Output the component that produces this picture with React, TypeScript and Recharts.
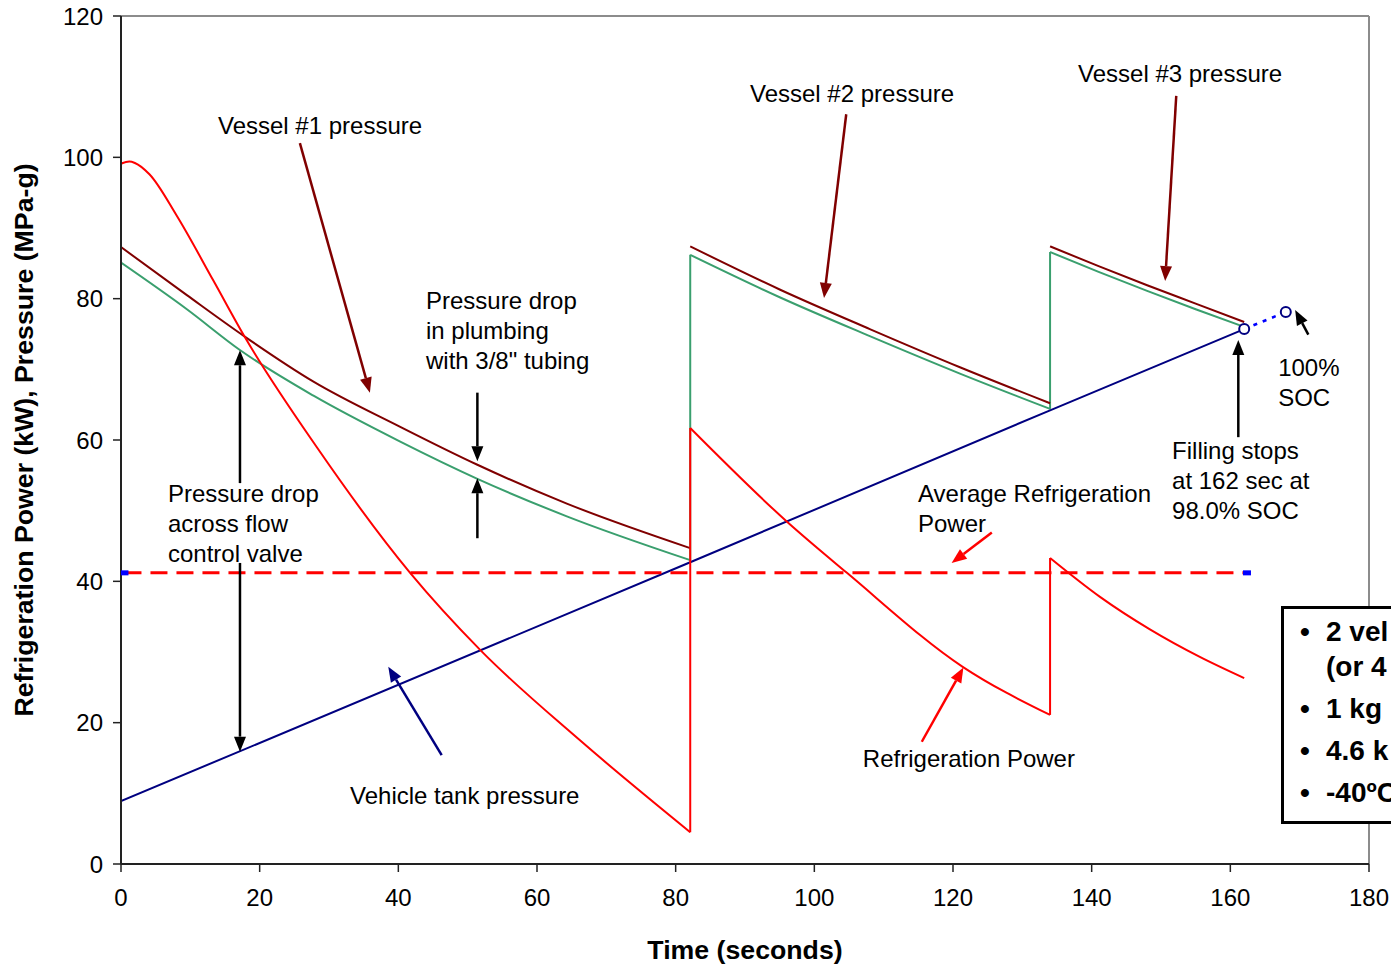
import React from 'react';
import { LineChart, Line, XAxis, YAxis, ReferenceLine, ReferenceDot } from 'recharts';

const FONT = '"Liberation Sans", Arial, Helvetica, sans-serif';

// Axis ticks
const timeTicks = [0, 20, 40, 60, 80, 100, 120, 140, 160, 180];
const valueTicks = [0, 20, 40, 60, 80, 100, 120];

// Refrigeration power (kW), one decaying segment per supply vessel
const powerVessel1 = [
  { t: 0, v: 99.1 }, { t: 1.2, v: 99.4 }, { t: 2.0, v: 99.2 }, { t: 4.1, v: 97.6 },
  { t: 8.0, v: 91.8 }, { t: 13.3, v: 82.6 }, { t: 17.9, v: 74.5 }, { t: 28.3, v: 58.9 },
  { t: 41.7, v: 41.2 }, { t: 51.8, v: 30.3 }, { t: 66.2, v: 17.5 }, { t: 82.1, v: 4.5 },
];
const powerVessel2 = [
  { t: 82.1, v: 61.7 }, { t: 96.1, v: 48.4 }, { t: 104.7, v: 41.2 }, { t: 121.4, v: 27.9 },
  { t: 134.0, v: 21.1 },
];
const powerVessel3 = [
  { t: 134.0, v: 43.3 }, { t: 141.2, v: 37.8 }, { t: 148.4, v: 33.2 }, { t: 155.6, v: 29.3 },
  { t: 162.0, v: 26.3 },
];
// Steps in refrigeration power when switching vessels
const powerSwitch1 = [{ t: 82.1, v: 4.5 }, { t: 82.1, v: 61.7 }];
const powerSwitch2 = [{ t: 134.0, v: 21.1 }, { t: 134.0, v: 43.3 }];

// Storage vessel pressure (MPa-g)
const vessel1Pressure = [
  { t: 0, v: 87.3 }, { t: 9.5, v: 80.5 }, { t: 17.9, v: 74.6 }, { t: 27.7, v: 68.3 },
  { t: 40.2, v: 61.9 }, { t: 51.4, v: 56.5 }, { t: 64.3, v: 51.0 }, { t: 82.1, v: 44.7 },
];
const vessel2Pressure = [
  { t: 82.1, v: 87.4 }, { t: 95, v: 81.3 }, { t: 108, v: 75.7 }, { t: 121, v: 70.3 },
  { t: 134, v: 65.2 },
];
const vessel3Pressure = [
  { t: 134, v: 87.4 }, { t: 141, v: 84.6 }, { t: 148, v: 81.9 }, { t: 155, v: 79.3 },
  { t: 162, v: 76.7 },
];

// Pressure at the flow control valve inlet (MPa-g)
const valveInlet1 = [
  { t: 0, v: 85.1 }, { t: 9.5, v: 78.5 }, { t: 17.2, v: 72.7 }, { t: 27.7, v: 66.3 },
  { t: 40.2, v: 59.8 }, { t: 51.4, v: 54.5 }, { t: 64.3, v: 49.2 }, { t: 82.1, v: 43.0 },
];
const valveInlet2 = [
  { t: 82.1, v: 86.2 }, { t: 95, v: 80.2 }, { t: 108, v: 74.7 }, { t: 121, v: 69.4 },
  { t: 134, v: 64.4 },
];
const valveInlet3 = [
  { t: 134, v: 86.6 }, { t: 141, v: 83.8 }, { t: 148, v: 81.1 }, { t: 155, v: 78.5 },
  { t: 162, v: 76.0 },
];
const valveInletSwitch1 = [{ t: 82.1, v: 43.0 }, { t: 82.1, v: 86.2 }];
const valveInletSwitch2 = [{ t: 134, v: 64.4 }, { t: 134, v: 86.6 }];

// Vehicle tank pressure (MPa-g)
const vehicleTankPressure = [
  { t: 0, v: 8.9 }, { t: 82.1, v: 42.7 }, { t: 134, v: 64.2 }, { t: 162, v: 75.7 },
];

// Extension from 98.0% SOC (fill stop) to 100% SOC
const fullChargeExtension = [
  { t: 162, v: 75.7 }, { t: 168, v: 78.1 },
];

// Average refrigeration power (kW)
const averagePower = [
  { t: 0.5, v: 41.2 }, { t: 162.4, v: 41.2 },
];

// Annotation arrows: [t, value] start and tip
const arrows = [
  { from: [25.8, 102.0], to: [35.9, 66.7], color: '#800000' },
  { from: [104.6, 106.1], to: [101.4, 80.1], color: '#800000' },
  { from: [152.2, 108.7], to: [150.6, 82.5], color: '#800000' },
  { from: [51.4, 66.7], to: [51.4, 57.0], color: '#000000' },
  { from: [51.4, 46.1], to: [51.4, 54.6], color: '#000000' },
  { from: [17.16, 53.9], to: [17.16, 72.7], color: '#000000' },
  { from: [17.16, 42.6], to: [17.16, 15.9], color: '#000000' },
  { from: [125.6, 46.9], to: [119.8, 42.6], color: '#ff0000' },
  { from: [115.5, 17.3], to: [121.5, 27.8], color: '#ff0000' },
  { from: [46.25, 15.4], to: [38.55, 27.9], color: '#000080' },
  { from: [161.15, 60.4], to: [161.15, 74.15], color: '#000000' },
  { from: [171.25, 74.9], to: [169.35, 78.4], color: '#000000' },
];

// Annotation text anchored at the first line's baseline
const notes = [
  { t: 13.99, v: 103.37, lines: ['Vessel #1 pressure'] },
  { t: 90.72, v: 107.9, lines: ['Vessel #2 pressure'] },
  { t: 138.03, v: 110.6, lines: ['Vessel #3 pressure'] },
  { t: 43.99, v: 78.6, lines: ['Pressure drop', 'in plumbing', 'with 3/8" tubing'] },
  { t: 6.78, v: 51.16, lines: ['Pressure drop', 'across flow', 'control valve'] },
  { t: 114.95, v: 51.16, lines: ['Average Refrigeration', 'Power'] },
  { t: 151.6, v: 57.38, lines: ['Filling stops', 'at 162 sec at', '98.0% SOC'] },
  { t: 166.9, v: 68.99, lines: ['100%', 'SOC'] },
  { t: 33.03, v: 8.42, lines: ['Vehicle tank pressure'] },
  { t: 107.0, v: 13.66, lines: ['Refrigeration Power'] },
];

const boxLines = [
  { bullet: true, text: '2 vel' },
  { bullet: false, text: '(or 4' },
  { bullet: true, text: '1 kg' },
  { bullet: true, text: '4.6 k' },
  { bullet: true, text: '-40ºC' },
];
const boxLineCenters = [632, 667, 709, 751, 793];

const arrowShape = (color: string) => (props: any) => {
  const { x1, y1, x2, y2 } = props;
  const ang = Math.atan2(y2 - y1, x2 - x1);
  const L = 15;
  const W = 6;
  const bx = x2 - L * Math.cos(ang);
  const by = y2 - L * Math.sin(ang);
  const px = -Math.sin(ang) * W;
  const py = Math.cos(ang) * W;
  return (
    <g>
      <line x1={x1} y1={y1} x2={bx} y2={by} stroke={color} strokeWidth={2.5} />
      <polygon points={`${x2},${y2} ${bx + px},${by + py} ${bx - px},${by - py}`} fill={color} />
    </g>
  );
};

const noteShape = (lines: string[]) => (props: any) => {
  const { cx, cy } = props;
  return (
    <text x={cx} y={cy} fill="#000" fontSize={24} fontFamily={FONT}>
      {lines.map((s, i) => (
        <tspan key={i} x={cx} dy={i === 0 ? 0 : 30}>{s}</tspan>
      ))}
    </text>
  );
};

const openCircle = (props: any) => (
  <circle key={`c-${props.index}`} cx={props.cx} cy={props.cy} r={5} fill="#fff" stroke="#000080" strokeWidth={2} />
);

const dashMarker = (props: any) => (
  <rect key={`m-${props.index}`} x={props.cx - 4} y={props.cy - 2.5} width={8} height={5} fill="#0000ff" />
);

const GREEN = '#3a9f6e';
const BROWN = '#800000';
const RED = '#ff0000';
const NAVY = '#000080';

const series = (data: any[], color: string, curve: 'monotone' | 'linear', key: string) => (
  <Line
    key={key}
    data={data}
    dataKey="v"
    type={curve}
    stroke={color}
    strokeWidth={2}
    dot={false}
    isAnimationActive={false}
  />
);

export default function App() {
  return (
    <div style={{ position: 'absolute', left: 0, top: 0, width: 1391, height: 965, overflow: 'hidden', background: '#fff', fontFamily: FONT }}>
      <LineChart width={1391} height={965} margin={{ top: 16, right: 22, bottom: 0, left: 0 }}>
        <XAxis
          dataKey="t"
          type="number"
          domain={[0, 180]}
          ticks={timeTicks}
          allowDataOverflow
          height={101}
          tickSize={8}
          tickMargin={17}
          axisLine={{ stroke: '#222', strokeWidth: 2 }}
          tickLine={{ stroke: '#222', strokeWidth: 1.5 }}
          tick={{ fill: '#000', fontSize: 24, fontFamily: FONT }}
        />
        <YAxis
          type="number"
          domain={[0, 120]}
          ticks={valueTicks}
          allowDataOverflow
          width={121}
          tickSize={8}
          tickMargin={10}
          axisLine={{ stroke: '#222', strokeWidth: 2 }}
          tickLine={{ stroke: '#222', strokeWidth: 1.5 }}
          tick={{ fill: '#000', fontSize: 24, fontFamily: FONT }}
        />
        <ReferenceLine y={120} stroke="#8c8c8c" strokeWidth={2} />
        <ReferenceLine x={180} stroke="#8c8c8c" strokeWidth={2} />

        {series(valveInlet1, GREEN, 'monotone', 'g1')}
        {series(valveInletSwitch1, GREEN, 'linear', 'gs1')}
        {series(valveInlet2, GREEN, 'monotone', 'g2')}
        {series(valveInletSwitch2, GREEN, 'linear', 'gs2')}
        {series(valveInlet3, GREEN, 'monotone', 'g3')}

        {series(vessel1Pressure, BROWN, 'monotone', 'b1')}
        {series(vessel2Pressure, BROWN, 'monotone', 'b2')}
        {series(vessel3Pressure, BROWN, 'monotone', 'b3')}

        {series(vehicleTankPressure, NAVY, 'linear', 'tank')}

        {series(powerVessel1, RED, 'monotone', 'r1')}
        {series(powerSwitch1, RED, 'linear', 'rs1')}
        {series(powerVessel2, RED, 'monotone', 'r2')}
        {series(powerSwitch2, RED, 'linear', 'rs2')}
        {series(powerVessel3, RED, 'monotone', 'r3')}

        <Line data={averagePower} dataKey="v" type="linear" stroke={RED} strokeWidth={3} strokeDasharray="17 9" dot={dashMarker} isAnimationActive={false} />
        <Line data={fullChargeExtension} dataKey="v" type="linear" stroke="#0000ff" strokeWidth={2.5} strokeDasharray="4 6" dot={openCircle} isAnimationActive={false} />

        {arrows.map((a, i) => (
          <ReferenceLine
            key={`a-${i}`}
            segment={[{ x: a.from[0], y: a.from[1] }, { x: a.to[0], y: a.to[1] }]}
            shape={arrowShape(a.color)}
          />
        ))}
        {notes.map((n, i) => (
          <ReferenceDot key={`n-${i}`} x={n.t} y={n.v} r={0} shape={noteShape(n.lines)} />
        ))}
      </LineChart>

      <svg width={1391} height={965} style={{ position: 'absolute', left: 0, top: 0, pointerEvents: 'none' }}>
        <text x={745} y={959} textAnchor="middle" fontSize={26.7} fontWeight="bold" fontFamily={FONT} fill="#000">
          Time (seconds)
        </text>
        <text
          x={33}
          y={440}
          textAnchor="middle"
          fontSize={26.7}
          fontWeight="bold"
          fontFamily={FONT}
          fill="#000"
          transform="rotate(-90, 33, 440)"
        >
          Refrigeration Power (kW), Pressure (MPa-g)
        </text>
      </svg>

      <div
        style={{
          position: 'absolute',
          left: 1281,
          top: 606,
          width: 200,
          height: 218,
          boxSizing: 'border-box',
          border: '3px solid #000',
          background: '#fff',
        }}
      >
        {boxLines.map((b, i) => (
          <div
            key={i}
            style={{
              position: 'absolute',
              left: 0,
              top: boxLineCenters[i] - 606 - 3 - 16,
              height: 32,
              lineHeight: '32px',
              fontSize: 28,
              fontWeight: 'bold',
              whiteSpace: 'nowrap',
              fontFamily: FONT,
              color: '#000',
            }}
          >
            {b.bullet && <span style={{ position: 'absolute', left: 16 }}>•</span>}
            <span style={{ position: 'absolute', left: 42 }}>{b.text}</span>
          </div>
        ))}
      </div>
    </div>
  );
}
